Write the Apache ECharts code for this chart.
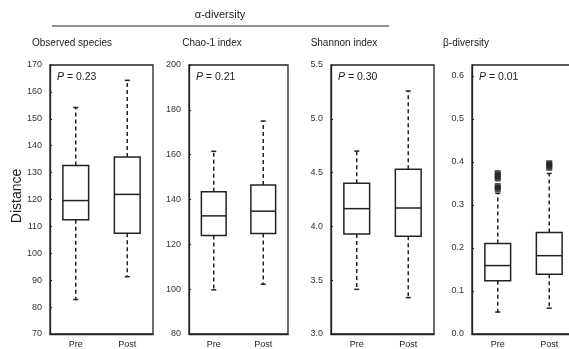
<!DOCTYPE html>
<html>
<head>
<meta charset="utf-8">
<script src="https://cdn.jsdelivr.net/npm/echarts@6/dist/echarts.min.js"></script>
<style>html,body{margin:0;padding:0;background:#fff}#c{width:569px;height:349px}</style>
</head>
<body>
<div id="c"></div>
<script>
// ---- data ----
const categories = ['Pre', 'Post'];
// [min, Q1, median, Q3, max]
const observedPre  = [82.8, 112.5, 119.6, 132.6, 154.2];
const observedPost = [91.3, 107.5, 121.9, 135.8, 164.3];
const chaoPre      = [99.7, 123.9, 132.7, 143.5, 161.5];
const chaoPost     = [102.2, 124.8, 134.8, 146.5, 175.0];
const shannonPre   = [3.415, 3.93, 4.165, 4.40, 4.70];
const shannonPost  = [3.338, 3.908, 4.171, 4.53, 5.258];
const betaPre      = [0.051, 0.124, 0.159, 0.210, 0.327];
const betaPost     = [0.060, 0.139, 0.182, 0.236, 0.373];
const betaPreOutliers  = [0.335, 0.340, 0.345, 0.360, 0.365, 0.370, 0.375];
const betaPostOutliers = [0.385, 0.390, 0.395, 0.398];
const panelTitles = ['Observed species', 'Chao-1 index', 'Shannon index', 'β-diversity'];
const pValues = ['0.23', '0.21', '0.30', '0.01'];
const yMin = [70, 80, 3.0, 0];
const yMax = [170, 200, 5.5, 0.625];
const yStep = [10, 20, 0.5, 0.1];
const yDecimals = [0, 0, 1, 1];

const FONT = '"Liberation Sans", Arial, sans-serif';
const INK = '#222';
const gridLeft = [50, 189, 331, 472];
const gridWidth = [103, 99, 103, 103];

const chart = echarts.init(document.getElementById('c'));

function boxData(pre, post) {
  return [[0].concat(pre), [1].concat(post)];
}

function renderBox(params, api) {
  const x = api.value(0);
  const pMin = api.coord([x, api.value(1)]);
  const pQ1 = api.coord([x, api.value(2)]);
  const pMed = api.coord([x, api.value(3)]);
  const pQ3 = api.coord([x, api.value(4)]);
  const pMax = api.coord([x, api.value(5)]);
  const bw = api.size([1, 0])[0] * 0.5;
  const cx = pMed[0];
  const cap = 2.5;
  const solid = {stroke: INK, lineWidth: 1.5, fill: null};
  const dashed = {stroke: INK, lineWidth: 1.5, lineDash: [4, 3], fill: null};
  return {
    type: 'group',
    children: [
      {type: 'line', shape: {x1: cx, y1: pQ3[1], x2: cx, y2: pMax[1]}, style: dashed},
      {type: 'line', shape: {x1: cx, y1: pQ1[1], x2: cx, y2: pMin[1]}, style: dashed},
      {type: 'line', shape: {x1: cx - cap, y1: pMax[1], x2: cx + cap, y2: pMax[1]}, style: solid},
      {type: 'line', shape: {x1: cx - cap, y1: pMin[1], x2: cx + cap, y2: pMin[1]}, style: solid},
      {type: 'rect', shape: {x: cx - bw / 2, y: pQ3[1], width: bw, height: pQ1[1] - pQ3[1]},
        style: {stroke: INK, lineWidth: 1.5, fill: '#fff'}},
      {type: 'line', shape: {x1: cx - bw / 2, y1: pMed[1], x2: cx + bw / 2, y2: pMed[1]}, style: solid}
    ]
  };
}

const grids = [], xAxes = [], yAxes = [], series = [], graphics = [];
const allData = [
  boxData(observedPre, observedPost),
  boxData(chaoPre, chaoPost),
  boxData(shannonPre, shannonPost),
  boxData(betaPre, betaPost)
];

for (let i = 0; i < 4; i++) {
  grids.push({left: gridLeft[i], width: gridWidth[i], top: 65, height: 269,
    outerBoundsMode: 'none', containLabel: false,
    show: true, borderColor: INK, borderWidth: 1.3, backgroundColor: 'transparent'});
  xAxes.push({type: 'category', gridIndex: i, data: categories, boundaryGap: true,
    axisLine: {show: true, lineStyle: {color: INK, width: 1.3}},
    axisTick: {show: false},
    axisLabel: {fontSize: 9, color: INK, fontFamily: FONT, margin: 6}});
  const dec = yDecimals[i];
  yAxes.push({type: 'value', gridIndex: i, min: yMin[i], max: yMax[i], interval: yStep[i],
    splitLine: {show: false},
    axisLine: {show: true, lineStyle: {color: INK, width: 1.3}},
    axisTick: {show: true, inside: true, length: 2, lineStyle: {color: INK}},
    axisLabel: {fontSize: 9, color: '#333', fontFamily: FONT, margin: 8, showMaxLabel: i !== 3,
      formatter: v => Number(v).toFixed(dec)}});
  series.push({type: 'custom', xAxisIndex: i, yAxisIndex: i, renderItem: renderBox,
    data: allData[i], encode: {x: 0, y: [1, 2, 3, 4, 5]}, z: 2});
  graphics.push({type: 'text', left: gridLeft[i] + 7, top: 72,
    style: {text: '{p|P} = ' + pValues[i], font: '10.5px ' + FONT, fill: INK,
      rich: {p: {fontStyle: 'italic', fontSize: 10.5, fontFamily: FONT, fill: INK}}}});
}

series.push({type: 'scatter', xAxisIndex: 3, yAxisIndex: 3, symbol: 'rect', symbolSize: [6, 5],
  itemStyle: {color: INK}, z: 3,
  data: betaPreOutliers.map(v => [0, v]).concat(betaPostOutliers.map(v => [1, v]))});

const titleX = [72, 212, 344, 466];
for (let i = 0; i < 4; i++) {
  graphics.push({type: 'text', x: titleX[i], y: 43,
    style: {text: panelTitles[i], font: '10px ' + FONT, fill: INK, align: 'center', verticalAlign: 'middle'}});
}
graphics.push({type: 'text', x: 220, y: 15,
  style: {text: 'α-diversity', font: '11px ' + FONT, fill: INK, align: 'center', verticalAlign: 'middle'}});
graphics.push({type: 'line', shape: {x1: 52, y1: 26, x2: 389, y2: 26}, style: {stroke: INK, lineWidth: 1}});
graphics.push({type: 'text', x: 17, y: 196, rotation: Math.PI / 2,
  style: {text: 'Distance', font: '14px ' + FONT, fill: INK, align: 'center', verticalAlign: 'middle'}});

chart.setOption({
  animation: false,
  grid: grids,
  xAxis: xAxes,
  yAxis: yAxes,
  series: series,
  graphic: graphics
});
</script>
</body>
</html>
